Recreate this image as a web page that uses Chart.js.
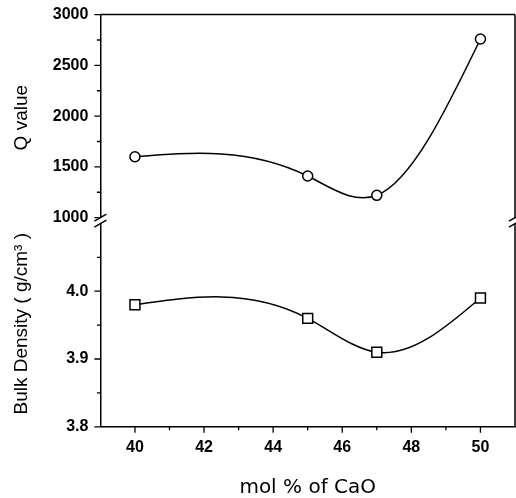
<!DOCTYPE html>
<html>
<head>
<meta charset="utf-8">
<script src="https://cdn.jsdelivr.net/npm/chart.js@4/dist/chart.umd.min.js"></script>
<style>
  html, body { margin: 0; padding: 0; background: #fff; }
  canvas { display: block; }
</style>
</head>
<body>
<canvas id="c" width="516" height="498"></canvas>
<script>
// ---- data ----
const molCaO = [40, 45, 47, 50];
const qValues = [1600, 1410, 1220, 2760];
const densityValues = [3.98, 3.96, 3.91, 3.99];

// ---- tick values ----
const xMajorTicks = [40, 42, 44, 46, 48, 50];
const xMinorTicks = [41, 43, 45, 47, 49];
const qMajorTicks = [1000, 1500, 2000, 2500, 3000];
const qMinorTicks = [1250, 1750, 2250, 2750];
const dMajorTicks = [3.8, 3.9, 4.0];
const dMinorTicks = [3.85, 3.95, 4.05];

const tickFont = { family: 'Liberation Sans, Arial, sans-serif', size: 16, weight: 'bold' };
const yTitleFont = { family: 'Liberation Sans, Arial, sans-serif', size: 19 };
const xTitleFont = { family: 'DejaVu Sans, sans-serif', size: 20, lineHeight: 1.0 };

// Natural cubic spline control points (computed on pixel positions from the scales)
const naturalSpline = {
  id: 'naturalSpline',
  beforeDatasetDraw(chart, args) {
    const meta = args.meta;
    const pts = meta.data;
    const n = pts.length;
    if (n < 3) return;
    const xs = pts.map(p => p.x), ys = pts.map(p => p.y);
    const h = [];
    for (let i = 0; i < n - 1; i++) h.push(xs[i + 1] - xs[i]);
    const a = [], b = [], c = [], r = [];
    for (let i = 1; i < n - 1; i++) {
      a.push(h[i - 1]); b.push(2 * (h[i - 1] + h[i])); c.push(h[i]);
      r.push(6 * ((ys[i + 1] - ys[i]) / h[i] - (ys[i] - ys[i - 1]) / h[i - 1]));
    }
    const m = n - 2;
    for (let i = 1; i < m; i++) {
      const w = a[i] / b[i - 1];
      b[i] -= w * c[i - 1];
      r[i] -= w * r[i - 1];
    }
    const Mi = new Array(m);
    Mi[m - 1] = r[m - 1] / b[m - 1];
    for (let i = m - 2; i >= 0; i--) Mi[i] = (r[i] - c[i] * Mi[i + 1]) / b[i];
    const M = [0, ...Mi, 0];
    for (let i = 0; i < n - 1; i++) {
      const s = (ys[i + 1] - ys[i]) / h[i];
      const d0 = s - h[i] * (2 * M[i] + M[i + 1]) / 6;
      const d1 = s + h[i] * (M[i] + 2 * M[i + 1]) / 6;
      pts[i].cp2x = xs[i] + h[i] / 3;
      pts[i].cp2y = ys[i] + d0 * h[i] / 3;
      pts[i + 1].cp1x = xs[i + 1] - h[i] / 3;
      pts[i + 1].cp1y = ys[i + 1] - d1 * h[i] / 3;
    }
    pts[0].cp1x = xs[0]; pts[0].cp1y = ys[0];
    pts[n - 1].cp2x = xs[n - 1]; pts[n - 1].cp2y = ys[n - 1];
    meta.dataset._pointsUpdated = true;
  }
};

const frameAndTicks = {
  id: 'frameAndTicks',
  afterDraw(chart) {
    const ctx = chart.ctx;
    const ca = chart.chartArea;
    const xs = chart.scales.x, yq = chart.scales.yQ, yd = chart.scales.yD;
    ctx.save();
    ctx.strokeStyle = '#000';
    ctx.lineWidth = 1.5;
    ctx.lineCap = 'butt';
    ctx.beginPath();
    ctx.moveTo(ca.left, ca.top); ctx.lineTo(ca.right, ca.top);
    ctx.moveTo(ca.right, ca.top); ctx.lineTo(ca.right, ca.bottom);
    ctx.stroke();
    ctx.lineWidth = 1.3;
    ctx.beginPath();
    xMajorTicks.forEach(v => { const p = xs.getPixelForValue(v); ctx.moveTo(p, ca.bottom); ctx.lineTo(p, ca.bottom + 6); });
    xMinorTicks.forEach(v => { const p = xs.getPixelForValue(v); ctx.moveTo(p, ca.bottom); ctx.lineTo(p, ca.bottom + 3.5); });
    qMajorTicks.forEach(v => { const p = yq.getPixelForValue(v); ctx.moveTo(ca.left, p); ctx.lineTo(ca.left - 6, p); });
    qMinorTicks.forEach(v => { const p = yq.getPixelForValue(v); ctx.moveTo(ca.left, p); ctx.lineTo(ca.left - 3.5, p); });
    dMajorTicks.forEach(v => { const p = yd.getPixelForValue(v); ctx.moveTo(ca.left, p); ctx.lineTo(ca.left - 6, p); });
    dMinorTicks.forEach(v => { const p = yd.getPixelForValue(v); ctx.moveTo(ca.left, p); ctx.lineTo(ca.left - 3.5, p); });
    ctx.stroke();
    const yb = (yq.bottom + yd.top) / 2;
    [ca.left, ca.right].forEach(x => {
      ctx.fillStyle = '#fff';
      ctx.fillRect(x - 3, yb - 3, 6, 6);
      ctx.beginPath();
      [-3, 3].forEach(off => {
        ctx.moveTo(x - 6, yb + off + 3.5);
        ctx.lineTo(x + 6, yb + off - 3.5);
      });
      ctx.lineWidth = 1.5;
      ctx.stroke();
    });
    ctx.restore();
  }
};

const yGrid = { display: true, drawOnChartArea: false, drawTicks: true, tickLength: 7, tickColor: 'rgba(0,0,0,0)' };

new Chart(document.getElementById('c'), {
  type: 'line',
  data: {
    datasets: [
      {
        label: 'Q value',
        data: molCaO.map((x, i) => ({ x, y: qValues[i] })),
        yAxisID: 'yQ',
        borderColor: '#000',
        borderWidth: 1.5,
        tension: 0.4,
        pointStyle: 'circle',
        pointRadius: 5,
        pointBackgroundColor: '#fff',
        pointBorderColor: '#000',
        pointBorderWidth: 1.5,
        clip: false
      },
      {
        label: 'Bulk Density',
        data: molCaO.map((x, i) => ({ x, y: densityValues[i] })),
        yAxisID: 'yD',
        borderColor: '#000',
        borderWidth: 1.5,
        tension: 0.4,
        pointStyle: 'rect',
        pointRadius: 7,
        pointBackgroundColor: '#fff',
        pointBorderColor: '#000',
        pointBorderWidth: 1.5,
        clip: false
      }
    ]
  },
  options: {
    responsive: false,
    animation: false,
    events: [],
    layout: { autoPadding: false, padding: { left: 4, right: 1, top: 0.5, bottom: 0 } },
    plugins: { legend: { display: false }, tooltip: { enabled: false } },
    scales: {
      x: {
        type: 'linear',
        position: 'bottom',
        min: 39, max: 51,
        afterBuildTicks: s => { s.ticks = xMajorTicks.map(v => ({ value: v })); },
        border: { display: true, color: '#000', width: 1.5 },
        grid: { display: true, drawOnChartArea: false, drawTicks: false },
        ticks: { color: '#000', font: tickFont, padding: 11, maxRotation: 0 },
        title: { display: true, text: 'mol % of CaO', color: '#000', font: xTitleFont, padding: { top: 10, bottom: 0 } }
      },
      yD: {
        type: 'linear',
        position: 'left',
        stack: 'panels',
        stackWeight: 1,
        min: 3.8, max: 4.104,
        afterBuildTicks: s => { s.ticks = dMajorTicks.map(v => ({ value: v })); },
        border: { display: true, color: '#000', width: 1.5 },
        grid: yGrid,
        ticks: { color: '#000', font: tickFont, padding: 5, callback: v => Number(v).toFixed(1) },
        title: { display: true, text: 'Bulk Density ( g/cm³ )', color: '#000', font: yTitleFont, padding: { top: 6, bottom: 15 } }
      },
      yQ: {
        type: 'linear',
        position: 'left',
        stack: 'panels',
        stackWeight: 1,
        min: 970, max: 3000,
        afterBuildTicks: s => { s.ticks = qMajorTicks.map(v => ({ value: v })); },
        border: { display: true, color: '#000', width: 1.5 },
        grid: yGrid,
        ticks: { color: '#000', font: tickFont, padding: 5, callback: v => String(v) },
        title: { display: true, text: 'Q value', color: '#000', font: yTitleFont, padding: { top: 6, bottom: 15 } }
      }
    }
  },
  plugins: [naturalSpline, frameAndTicks]
});
</script>
</body>
</html>
